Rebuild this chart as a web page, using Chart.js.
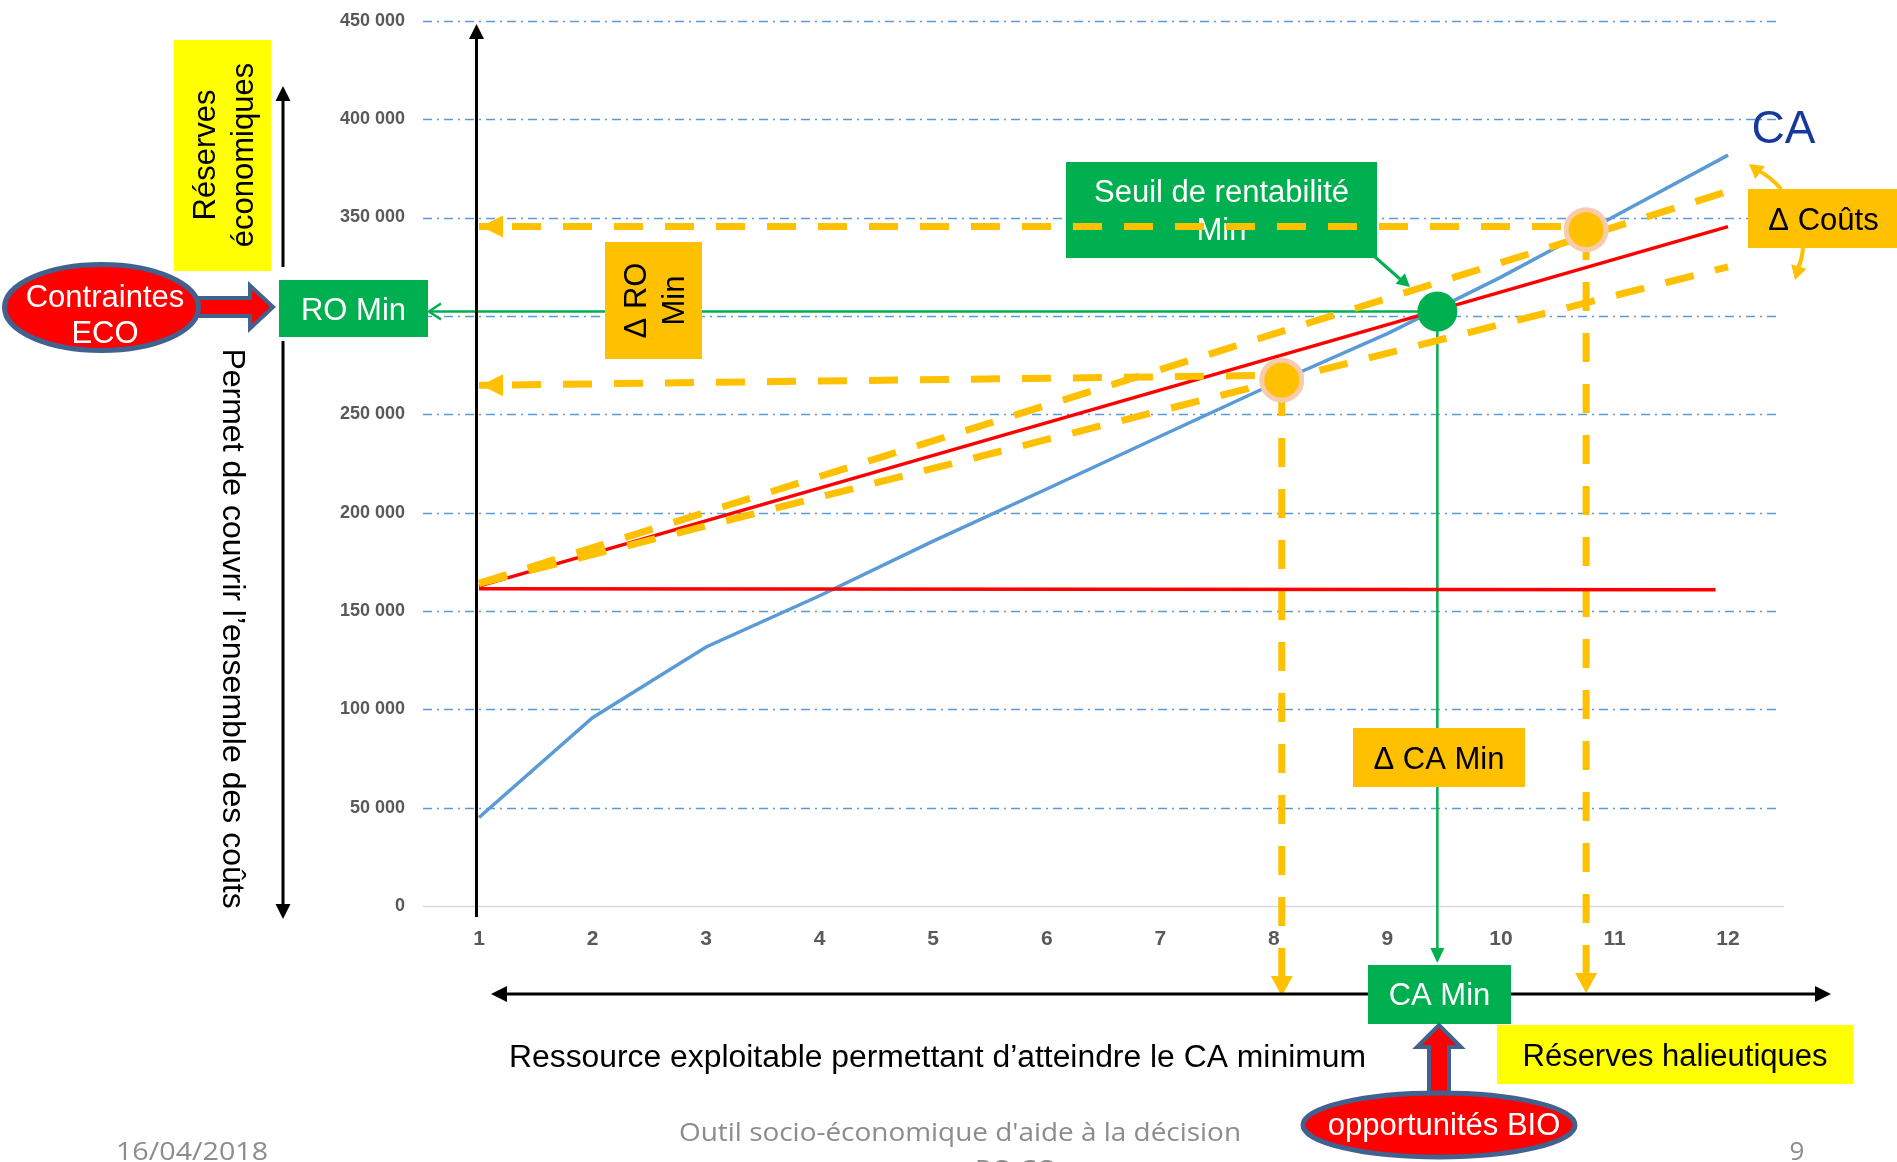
<!DOCTYPE html>
<html><head><meta charset="utf-8">
<script src="https://cdn.jsdelivr.net/npm/chart.js@4.4.0/dist/chart.umd.min.js"></script>
<style>html,body{margin:0;padding:0;background:#fff;overflow:hidden}canvas{display:block}</style>
</head><body>
<canvas id="c" width="1897" height="1162"></canvas>
<script>
// ---------- data ----------
const categories = [1,2,3,4,5,6,7,8,9,10,11,12];
const caValues = [45000,95700,131700,157700,185500,212000,238800,265500,291000,319700,350600,381700];
const fixedCostX = [1, 11.89];
const fixedCostValues = [161300, 160800];
const totalCostX = [1, 12];
const totalCostValues = [162600, 345400];
const costHighValues = [164000, 363300];
const costLowValues = [164000, 324900];
const breakEvenPoint = [9.44, 302200];
const lowPoint = [8.07, 267300];
const highPoint = [10.75, 343800];
const lowGuideValues = [264700, 269800];
const highGuideValue = 345400;
const yTickValues = [0,50000,100000,150000,200000,250000,300000,350000,400000,450000];

const F = "'Liberation Sans', Arial, sans-serif";
const YELLOW = '#FFC000', GREEN = '#00B050', RED = '#FF0000', BLUEGRAY = '#41618F';
const pts = (xs, ys) => xs.map((x, i) => ({x, y: ys[i]}));
const fmt = v => v === 0 ? '0' : String(v).replace(/\B(?=(\d{3})+(?!\d))/g, ' ');

function box(ctx, x, y, w, h, c){ ctx.fillStyle = c; ctx.fillRect(x, y, w, h); }
function txt(ctx, s, x, y, size, color, opts={}){
  ctx.save();
  ctx.font = (opts.weight||'') + ' ' + size + 'px ' + (opts.family||F);
  ctx.fillStyle = color; ctx.textAlign = opts.align||'center'; ctx.textBaseline = 'alphabetic';
  ctx.translate(x, y);
  if (opts.rot) ctx.rotate(opts.rot);
  if (opts.width){ const w = ctx.measureText(s).width; ctx.scale(opts.width / w, 1); }
  ctx.fillText(s, 0, 0);
  ctx.restore();
}
function head(ctx, tx, ty, ang, len, half, color){
  ctx.save(); ctx.translate(tx, ty); ctx.rotate(ang);
  ctx.beginPath(); ctx.moveTo(0,0); ctx.lineTo(-len,-half); ctx.lineTo(-len,half); ctx.closePath();
  ctx.fillStyle = color; ctx.fill(); ctx.restore();
}
function seg(ctx, x1, y1, x2, y2, color, w, dash){
  ctx.save(); ctx.beginPath(); ctx.strokeStyle = color; ctx.lineWidth = w; ctx.lineCap = 'butt';
  ctx.setLineDash(dash||[]); ctx.moveTo(x1,y1); ctx.lineTo(x2,y2); ctx.stroke(); ctx.restore();
}
function ellipse(ctx, cx, cy, rx, ry){
  ctx.save(); ctx.beginPath(); ctx.ellipse(cx, cy, rx, ry, 0, 0, Math.PI*2);
  ctx.fillStyle = RED; ctx.fill(); ctx.lineWidth = 5; ctx.strokeStyle = BLUEGRAY; ctx.stroke(); ctx.restore();
}
function poly(ctx, p){
  ctx.save(); ctx.beginPath(); ctx.moveTo(p[0][0], p[0][1]);
  for (let i=1;i<p.length;i++) ctx.lineTo(p[i][0], p[i][1]);
  ctx.closePath(); ctx.fillStyle = RED; ctx.fill(); ctx.lineWidth = 4; ctx.strokeStyle = BLUEGRAY; ctx.lineJoin='miter'; ctx.stroke(); ctx.restore();
}

const annotations = {
  id: 'annotations',
  beforeDatasetsDraw(chart){
    const ctx = chart.ctx, xs = chart.scales.x, ys = chart.scales.y, ca = chart.chartArea;
    // horizontal grid lines
    ys.ticks.forEach(t => {
      const y = Math.round(ys.getPixelForValue(t.value)) + 0.5;
      if (t.value === 0) seg(ctx, ca.left, y, ca.right + 6, y, '#D9D9D9', 1.5);
      else seg(ctx, ca.left, y, ca.right, y, '#5B9BD5', 1.5, [9,5,2,5]);
    });
    // green guides from the break-even point
    const bx = xs.getPixelForValue(breakEvenPoint[0]), by = ys.getPixelForValue(breakEvenPoint[1]);
    seg(ctx, bx, by, 429, by, GREEN, 2.5);
    ctx.save(); ctx.strokeStyle = GREEN; ctx.lineWidth = 2.5; ctx.beginPath();
    ctx.moveTo(441, by-8); ctx.lineTo(429, by); ctx.lineTo(441, by+8); ctx.stroke(); ctx.restore();
    seg(ctx, bx, by, bx, 950, GREEN, 2.5);
    head(ctx, bx, 963, Math.PI/2, 15, 7, GREEN);
    // vertical yellow guides from the two circles down to the resource axis
    [[lowPoint, 996], [highPoint, 993]].forEach(([p, tip]) => {
      const px = xs.getPixelForValue(p[0]), py = ys.getPixelForValue(p[1]);
      seg(ctx, px, tip - 19, px, py, YELLOW, 7, [29,22]);
      head(ctx, px, tip, Math.PI/2, 20, 11, YELLOW);
    });
    // "Seuil de rentabilité Min" call-out (under the dashed guide)
    box(ctx, 1066, 162, 311, 96, GREEN);
    txt(ctx, 'Seuil de rentabilité', 1221.5, 201.5, 31, '#fff');
    txt(ctx, 'Min', 1221.5, 240, 31, '#fff');
    seg(ctx, 1375, 257, 1400, 279, GREEN, 3);
    head(ctx, 1410, 287, Math.atan2(30, 34), 13, 7, GREEN);
  },
  afterDatasetsDraw(chart){
    const ctx = chart.ctx, xs = chart.scales.x, ys = chart.scales.y;
    const x1 = xs.getPixelForValue(1);
    // main vertical axis arrow
    seg(ctx, x1 - 2.5, 917, x1 - 2.5, 38, '#000', 3);
    head(ctx, x1 - 2.5, 24, -Math.PI/2, 15, 7.5, '#000');
    // arrow heads of the horizontal yellow guides
    head(ctx, x1 + 2, ys.getPixelForValue(highGuideValue), Math.PI, 22, 11, YELLOW);
    head(ctx, x1 + 2, ys.getPixelForValue(lowGuideValues[0]), Math.PI, 22, 11, YELLOW);

    // bottom double arrow (resource)
    seg(ctx, 505, 994, 1816, 994, '#000', 3);
    head(ctx, 491, 994, Math.PI, 16, 8, '#000');
    head(ctx, 1831, 994, 0, 16, 8, '#000');

    // Δ RO Min
    box(ctx, 605, 242, 97, 117, YELLOW);
    txt(ctx, 'Δ RO', 646, 300.5, 31, '#000', {rot: -Math.PI/2});
    txt(ctx, 'Min', 684, 300.5, 31, '#000', {rot: -Math.PI/2});
    // Δ CA Min
    box(ctx, 1353, 728, 172, 59, YELLOW);
    txt(ctx, 'Δ CA Min', 1439, 769, 31, '#000');
    // CA Min
    box(ctx, 1368, 965, 143, 59, GREEN);
    txt(ctx, 'CA Min', 1439.5, 1005, 31, '#fff');
    // RO Min
    box(ctx, 279, 280, 149, 57, GREEN);
    txt(ctx, 'RO Min', 353.5, 320, 31, '#fff');
    // Δ Coûts
    box(ctx, 1748, 189, 149, 59, YELLOW);
    txt(ctx, 'Δ Coûts', 1823.5, 230, 31, '#000');
    ctx.save(); ctx.strokeStyle = YELLOW; ctx.lineWidth = 4;
    ctx.beginPath(); ctx.moveTo(1781, 189); ctx.quadraticCurveTo(1770, 176, 1757, 170); ctx.stroke();
    ctx.beginPath(); ctx.moveTo(1803, 248); ctx.quadraticCurveTo(1802, 260, 1798, 268); ctx.stroke();
    ctx.restore();
    head(ctx, 1749, 164, Math.atan2(-10, -13), 14, 8, YELLOW);
    head(ctx, 1795, 280, Math.atan2(14, -4), 14, 8, YELLOW);
    // CA label
    txt(ctx, 'CA', 1783.5, 143, 47, '#17399B', {width: 64});

    // Réserves économiques
    box(ctx, 174, 40, 97, 231, '#FFFF00');
    txt(ctx, 'Réserves', 215, 155, 31, '#000', {rot: -Math.PI/2});
    txt(ctx, 'économiques', 253, 155, 31, '#000', {rot: -Math.PI/2});
    seg(ctx, 283, 267, 283, 100, '#000', 3);
    head(ctx, 283, 86, -Math.PI/2, 15, 7.5, '#000');
    // Permet de couvrir ...
    txt(ctx, 'Permet de couvrir l’ensemble des coûts', 223, 628.5, 32, '#000', {rot: Math.PI/2});
    seg(ctx, 283, 341, 283, 905, '#000', 3);
    head(ctx, 283, 919, Math.PI/2, 15, 7.5, '#000');

    // Contraintes ECO
    poly(ctx, [[190,298],[250,298],[250,285.5],[273,307],[250,328.5],[250,316],[190,316]]);
    ellipse(ctx, 101.5, 307.5, 97, 43);
    txt(ctx, 'Contraintes', 105, 306.5, 31, '#fff');
    txt(ctx, 'ECO', 105, 343, 31, '#fff');

    // opportunités BIO
    poly(ctx, [[1429,1100],[1429,1047],[1417,1047],[1439,1025],[1461,1047],[1449,1047],[1449,1100]]);
    ellipse(ctx, 1439, 1125, 136, 32);
    txt(ctx, 'opportunités BIO', 1444, 1135, 31, '#fff');

    // Réserves halieutiques
    box(ctx, 1497, 1025, 356, 59, '#FFFF00');
    txt(ctx, 'Réserves halieutiques', 1675, 1066, 31, '#000');
    // resource caption
    txt(ctx, 'Ressource exploitable permettant d’atteindre le CA minimum', 937.5, 1067, 31, '#000', {width: 857});

    // footer
    const FF = "'Open Sans', " + F;
    txt(ctx, '16/04/2018', 192, 1160, 26, '#8C8C8C', {family: FF, width: 152});
    txt(ctx, "Outil socio-économique d'aide à la décision", 960, 1141, 26, '#8C8C8C', {family: FF, width: 562});
    txt(ctx, 'RO CO', 1016, 1178, 26, '#8C8C8C', {family: FF, width: 82});
    txt(ctx, '9', 1797, 1160, 26, '#8C8C8C', {family: FF});
  }
};

const dashed = {borderColor: YELLOW, borderWidth: 7, borderDash: [29,22], borderCapStyle: 'butt', pointRadius: 0, fill: false};

new Chart(document.getElementById('c'), {
  type: 'line',
  data: {
    datasets: [
      {label: 'Points Δ', data: [ {x: lowPoint[0], y: lowPoint[1]}, {x: highPoint[0], y: highPoint[1]} ], showLine: false,
        pointRadius: 20, pointBackgroundColor: YELLOW, pointBorderColor: '#F8CBAD', pointBorderWidth: 5, order: 0, clip: false},
      {label: 'Seuil', data: [ {x: breakEvenPoint[0], y: breakEvenPoint[1]} ], showLine: false,
        pointRadius: 20, pointBackgroundColor: GREEN, pointBorderColor: GREEN, pointBorderWidth: 0, order: 0, clip: false},
      Object.assign({label: 'Guide haut', data: [{x: 1, y: highGuideValue}, {x: highPoint[0], y: highGuideValue}], order: 1, borderDashOffset: 18}, dashed),
      Object.assign({label: 'Guide bas', data: [{x: 1, y: lowGuideValues[0]}, {x: lowPoint[0], y: lowGuideValues[1]}], order: 1, borderDashOffset: 18}, dashed),
      Object.assign({label: 'Coûts +', data: pts(totalCostX, costHighValues), order: 2}, dashed),
      Object.assign({label: 'Coûts -', data: pts(totalCostX, costLowValues), order: 2}, dashed),
      {label: 'Coûts', data: pts(totalCostX, totalCostValues), borderColor: RED, borderWidth: 3.5, pointRadius: 0, order: 3},
      {label: 'Coûts fixes', data: pts(fixedCostX, fixedCostValues), borderColor: RED, borderWidth: 3.5, pointRadius: 0, order: 3},
      {label: 'CA', data: pts(categories, caValues), borderColor: '#5B9BD5', borderWidth: 3.5, pointRadius: 0, order: 4}
    ]
  },
  options: {
    responsive: false, animation: false, devicePixelRatio: 1,
    layout: {autoPadding: false, padding: {left: 0, right: 119, top: 17, bottom: 0}},
    plugins: {legend: {display: false}, tooltip: {enabled: false}},
    elements: {line: {tension: 0}},
    scales: {
      x: {
        type: 'linear', min: 0.507, max: 12.44,
        grid: {display: false}, border: {display: false},
        afterBuildTicks: s => { s.ticks = categories.map(v => ({value: v})); },
        afterFit: s => { s.height = 256; },
        ticks: {color: '#595959', font: {family: F, size: 21, weight: 'bold'}, padding: 13, maxRotation: 0, autoSkip: false,
          callback: v => String(v)}
      },
      y: {
        min: 0, max: 450000,
        grid: {display: false}, border: {display: false},
        afterBuildTicks: s => { s.ticks = yTickValues.map(v => ({value: v})); },
        afterFit: s => { s.width = 423; },
        ticks: {color: '#595959', font: {family: F, size: 18, weight: 'bold'}, padding: 10, callback: v => fmt(v)}
      }
    }
  },
  plugins: [annotations]
});
</script>
</body></html>
